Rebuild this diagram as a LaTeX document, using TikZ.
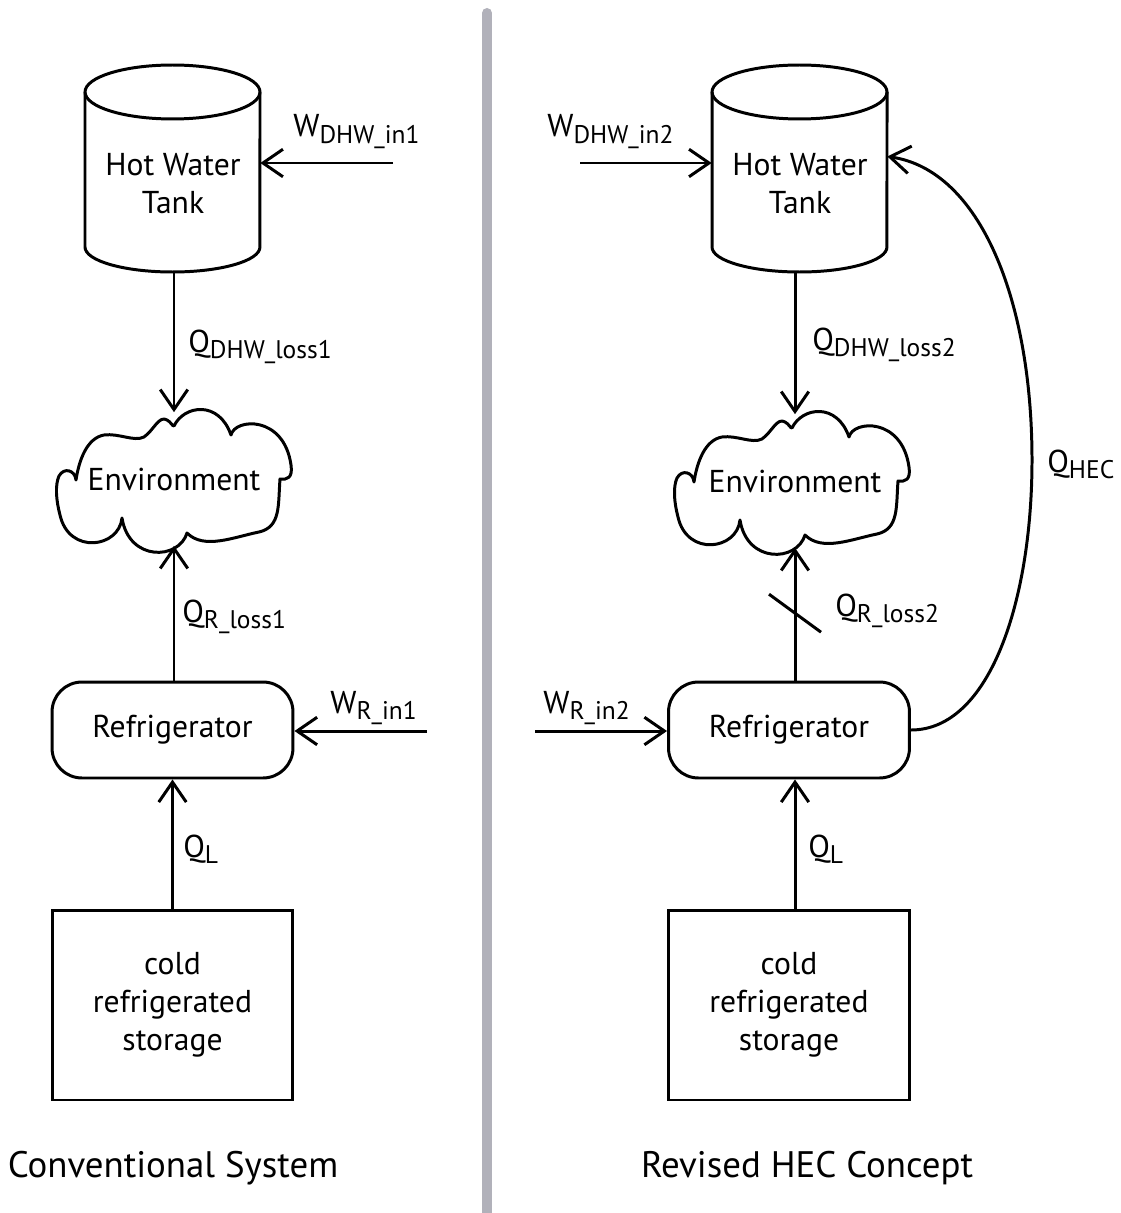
\documentclass[tikz,border=0pt]{standalone}
\usepackage{fontspec}
\setmainfont{PT Sans}
\usetikzlibrary{arrows.meta,calc}
\definecolor{divgray}{RGB}{177,177,186}
% quantity with a lowered subscript
\newcommand{\flowlabel}[2]{#1\raisebox{-3.5pt}{\fontsize{14.5}{15}\selectfont #2}}
\tikzset{
  thickline/.style={line width=1.7pt},
  flow/.style={thickline, -{Straight Barb[length=0.4cm,width=0.55cm]}},
  fridge/.style={thickline, draw, rounded corners=0.6cm, minimum width=4.82cm, minimum height=1.92cm, inner sep=0pt},
  store/.style={thickline, draw, minimum width=4.82cm, minimum height=3.8cm, align=center, inner sep=0pt},
  tankbody/.style={minimum width=3.5cm, minimum height=4.14cm, inner sep=0pt},
  boxtext/.style={align=center, inner sep=0pt},
  envnode/.style={minimum width=4.6cm, minimum height=2.66cm, inner sep=0pt},
  qlabel/.style={anchor=base west, inner sep=0pt},
  caption/.style={font=\fontsize{21}{26}\selectfont},
  % storage tank outline around its centre
  tankshape/.pic={
    \draw[thickline] (0,-76.5) ellipse [x radius=1.75cm, y radius=0.54cm];
    \draw[thickline] (-87.5,-76.5) -- (-87.5,78.5)
      arc[start angle=180, end angle=360, x radius=1.75cm, y radius=0.5cm]
      -- (87.5,-76.5);
  },
  % environment cloud outline around its centre
  envcloud/.pic={
    \draw[thickline, line join=round]
      (0,-53) .. controls (10,-74) and (45,-79) .. (57,-44)
      .. controls (61,-61) and (110,-64) .. (117,-14)
      .. controls (119,-1) and (113,1) .. (106,0)
      .. controls (104,26) and (107,48) .. (85,53)
      .. controls (60,58) and (30,71) .. (13,54)
      .. controls (5,81) and (-45,83) .. (-52,39)
      .. controls (-55,69) and (-105,76) .. (-114,36)
      .. controls (-118,21) and (-119,6) .. (-115,-3)
      .. controls (-110,-12) and (-99,-9) .. (-98,1)
      .. controls (-95,-19) and (-87,-41) .. (-70,-44)
      .. controls (-55,-46) and (-40,-37) .. (-30,-42)
      .. controls (-20,-49) and (-15,-64) .. (-7,-59)
      .. controls (-3,-57) and (-2,-53) .. (0,-53) -- cycle;
  }
}
\begin{document}
\begin{tikzpicture}[x=0.02cm, y=-0.02cm, font=\fontsize{18}{21.6}\selectfont]
\useasboundingbox (0,0) rectangle (1120,1213);

% divider between the two systems
\draw[divgray, line width=0.2cm, line cap=round] (487,13) -- (487,1220);

% ---------------- conventional system ----------------
\node[tankbody] (tankL) at (172.5,168.5) {};
\pic at (tankL.center) {tankshape};
\node[boxtext] (tankLtxt) at (173,184) {Hot Water\\Tank};

\node[envnode] (envL) at (174,479) {Environment};
\pic at (envL.center) {envcloud};

\node[fridge] (refL) at (172.5,730) {Refrigerator};
\node[store] (stL) at (172.5,1005) {cold\\refrigerated\\storage};

\coordinate (wdhw1) at (393,163);
\coordinate (wr1) at (427,731);

\draw[flow] (wdhw1) -- (wdhw1 -| tankL.east);
\draw[flow] (tankL.south -| envL.north) -- (envL.north);
\draw[flow] (refL.north -| envL.south) -- (envL.south);
\draw[flow] (wr1) -- (wr1 -| refL.east);
\draw[flow] (stL.north) -- (refL.south);

\node[qlabel] (lwdhw1) at (293,137) {\flowlabel{W}{DHW\_in1}};
\node[qlabel] (lqdhw1) at (188,352) {\flowlabel{Q}{DHW\_loss1}};
\node[qlabel] (lqr1) at (182,622) {\flowlabel{Q}{R\_loss1}};
\node[qlabel] (lwr1) at (330,713) {\flowlabel{W}{R\_in1}};
\node[qlabel] (lql1) at (183,857) {\flowlabel{Q}{L}};

\node[caption] (capL) at (173,1168) {Conventional System};

% ---------------- revised HEC concept ----------------
\node[tankbody] (tankR) at (799.5,168.5) {};
\pic at (tankR.center) {tankshape};
\node[boxtext] (tankRtxt) at (800,184) {Hot Water\\Tank};

\node[envnode] (envR) at (795,481) {Environment};
\pic[xshift=-0.06cm] at (envR.center) {envcloud};

\node[fridge] (refR) at (789,730) {Refrigerator};
\node[store] (stR) at (789,1005) {cold\\refrigerated\\storage};

\coordinate (wdhw2) at (580,163);
\coordinate (wr2) at (535,731);

\draw[flow] (wdhw2) -- (wdhw2 -| tankR.west);
\draw[flow] (tankR.south -| envR.north) -- (envR.north);
\draw[flow] (refR.north -| envR.south) -- (envR.south);
\draw[flow] (wr2) -- (wr2 -| refR.west);
\draw[flow] (stR.north -| envR.south) -- (refR.south -| envR.south);
\draw[flow] (refR.east) .. controls (990,730) and (1032,600) .. (1032,460)
  .. controls (1032,300) and (980,170) .. ([yshift=0.24cm]tankR.east);

% cut mark on the refrigerator loss path
\coordinate (cut) at ($(refR.north -| envR.south)!0.5!(envR.south)$);
\draw[thickline] ([shift={(-26,-20)}]cut) -- ([shift={(26,18)}]cut);

\node[qlabel] (lwdhw2) at (547,137) {\flowlabel{W}{DHW\_in2}};
\node[qlabel] (lqdhw2) at (812,350) {\flowlabel{Q}{DHW\_loss2}};
\node[qlabel] (lqr2) at (835,616) {\flowlabel{Q}{R\_loss2}};
\node[qlabel] (lwr2) at (543,713) {\flowlabel{W}{R\_in2}};
\node[qlabel] (lql2) at (808,857) {\flowlabel{Q}{L}};
\node[qlabel] (lqhec) at (1047,472) {\flowlabel{Q}{HEC}};

\node[caption] (capR) at (807,1168) {Revised HEC Concept};
\end{tikzpicture}
\end{document}
